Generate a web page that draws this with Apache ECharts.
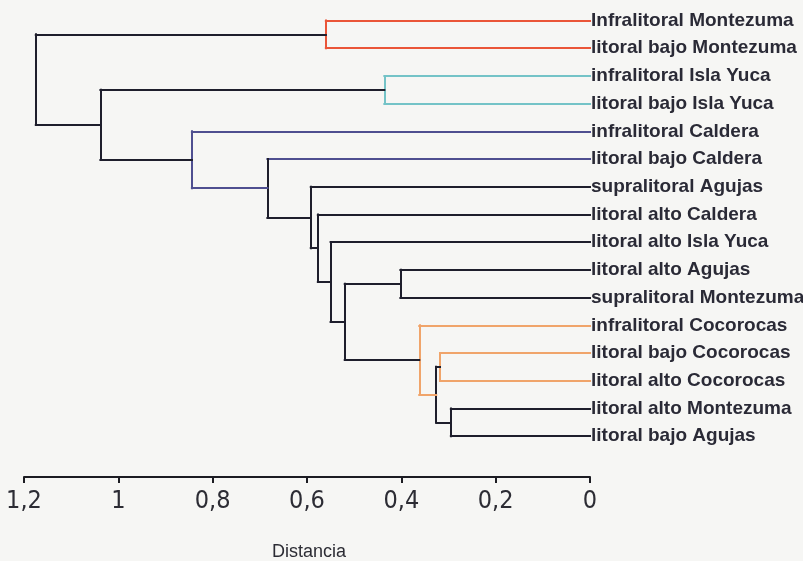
<!DOCTYPE html>
<html>
<head>
<meta charset="utf-8">
<script src="https://cdn.jsdelivr.net/npm/echarts@6/dist/echarts.min.js"></script>
<style>
  html, body { margin: 0; padding: 0; background: #f6f6f4; }
  #chart { width: 803px; height: 561px; }
</style>
</head>
<body>
<div id="chart"></div>
<script>
// Sites (leaves), top to bottom
const leafNames = [
  'Infralitoral Montezuma',
  'litoral bajo Montezuma',
  'infralitoral Isla Yuca',
  'litoral bajo Isla Yuca',
  'infralitoral Caldera',
  'litoral bajo Caldera',
  'supralitoral Agujas',
  'litoral alto Caldera',
  'litoral alto Isla Yuca',
  'litoral alto Agujas',
  'supralitoral Montezuma',
  'infralitoral Cocorocas',
  'litoral bajo Cocorocas',
  'litoral alto Cocorocas',
  'litoral alto Montezuma',
  'litoral bajo Agujas'
];

const RED = '#ea5538', TEAL = '#74c3c7', BLUE = '#4f4f90', DARK = '#1e1e2c', ORANGE = '#f0a46a';

// Colour of each leaf branch
const leafColors = [
  RED, RED, TEAL, TEAL, BLUE, BLUE, DARK, DARK,
  DARK, DARK, DARK, ORANGE, ORANGE, ORANGE, DARK, DARK
];

// Linkage: [child A, child B, distance]; ids >= 16 refer to earlier merges (16 + row)
const merges = [
  [0, 1, 0.560],    // 16
  [2, 3, 0.436],    // 17
  [9, 10, 0.402],   // 18
  [14, 15, 0.295],  // 19
  [12, 13, 0.318],  // 20
  [20, 19, 0.326],  // 21
  [11, 21, 0.362],  // 22
  [18, 22, 0.520],  // 23
  [8, 23, 0.550],   // 24
  [7, 24, 0.577],   // 25
  [6, 25, 0.592],   // 26
  [5, 26, 0.684],   // 27
  [4, 27, 0.844],   // 28
  [17, 28, 1.038],  // 29
  [16, 29, 1.175]   // 30
];
const mergeColors = [
  RED, TEAL, DARK, DARK, ORANGE, DARK, ORANGE, DARK,
  DARK, DARK, DARK, DARK, BLUE, DARK, DARK
];

const xTicks = [0, 0.2, 0.4, 0.6, 0.8, 1, 1.2];

// Build bracket segments from the linkage
const n = leafNames.length;
const nodeY = [], nodeH = [];
for (let i = 0; i < n; i++) { nodeY[i] = i; nodeH[i] = 0; }
const segments = [];
merges.forEach(function (m, k) {
  const a = m[0], b = m[1], h = m[2];
  const id = n + k;
  const col = mergeColors[k];
  nodeY[id] = (nodeY[a] + nodeY[b]) / 2;
  nodeH[id] = h;
  [a, b].forEach(function (c) {
    const c2 = c < n ? leafColors[c] : col;
    segments.push({ coords: [[nodeH[c], nodeY[c]], [h, nodeY[c]]], lineStyle: { color: c2 } });
  });
  segments.push({ coords: [[h, nodeY[a]], [h, nodeY[b]]], lineStyle: { color: col } });
});

const chart = echarts.init(document.getElementById('chart'));
chart.setOption({
  backgroundColor: '#f6f6f4',
  animation: false,
  grid: { left: 24, right: 213, top: 6.6, bottom: 111, containLabel: false, outerBoundsMode: 'none' },
  xAxis: {
    type: 'value',
    position: 'bottom',
    inverse: true,
    min: 0,
    max: 1.2,
    interval: 0.2,
    offset: 27,
    splitLine: { show: false },
    axisLine: { show: true, onZero: false, lineStyle: { color: '#1c1c22', width: 2 } },
    axisTick: { show: true, length: 6, lineStyle: { color: '#1c1c22', width: 2 } },
    axisLabel: {
      margin: 12,
      fontFamily: '"DejaVu Sans Condensed", "Liberation Sans Narrow", "Liberation Sans", Arial, sans-serif',
      fontSize: 25,
      color: '#2c2c34',
      formatter: function (v) {
        const t = xTicks.find(function (x) { return Math.abs(x - v) < 1e-6; });
        return t === undefined ? '' : String(t).replace('.', ',');
      }
    },
    name: 'Distancia',
    nameLocation: 'middle',
    nameGap: 66,
    nameTextStyle: {
      fontFamily: '"Liberation Sans", Arial, sans-serif',
      fontSize: 18,
      color: '#2c2c34',
      padding: [0, 0, 0, 4]
    }
  },
  yAxis: [
    {
      type: 'value',
      min: -0.5,
      max: n - 0.5,
      inverse: true,
      show: false
    },
    {
      type: 'category',
      data: leafNames,
      inverse: true,
      position: 'right',
      boundaryGap: true,
      axisLine: { show: false },
      axisTick: { show: false },
      splitLine: { show: false },
      axisLabel: {
        margin: 1,
        fontFamily: '"Liberation Sans", Arial, sans-serif',
        fontWeight: 'bold',
        fontSize: 19,
        color: '#2a2a36'
      }
    }
  ],
  series: [{
    type: 'lines',
    coordinateSystem: 'cartesian2d',
    xAxisIndex: 0,
    yAxisIndex: 0,
    polyline: false,
    silent: true,
    lineStyle: { width: 2, opacity: 1, cap: 'square' },
    data: segments
  }]
});
</script>
</body>
</html>
